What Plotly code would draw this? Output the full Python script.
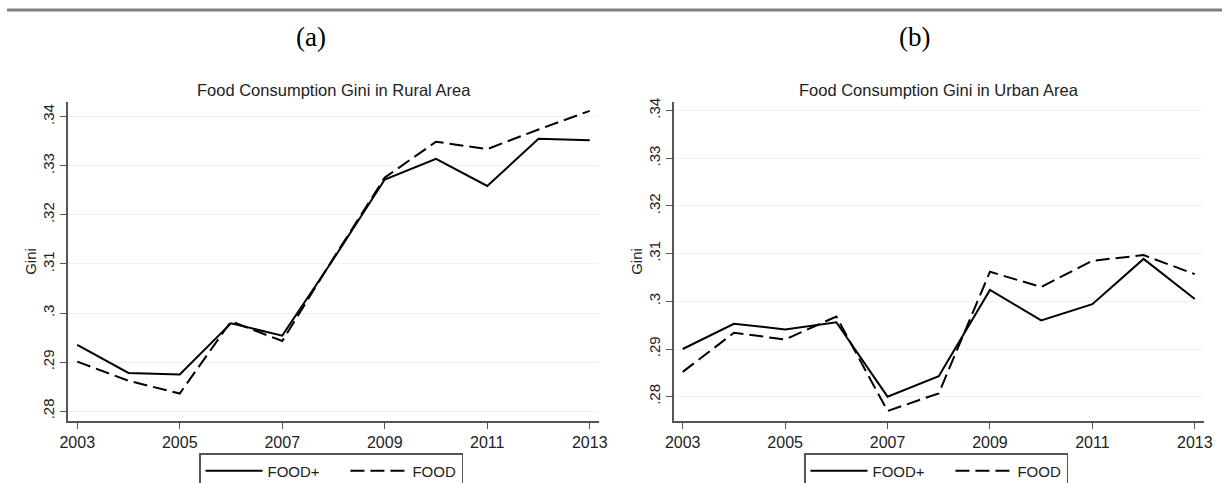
import plotly.graph_objects as go

# Survey years
years = [2003, 2004, 2005, 2006, 2007, 2008, 2009, 2010, 2011, 2012, 2013]

# Food consumption Gini, rural households
rural_food_plus = [0.2935, 0.2878, 0.2875, 0.2979, 0.2954, 0.3110, 0.3272, 0.3314, 0.3259, 0.3355, 0.3352]
rural_food = [0.2901, 0.2862, 0.2836, 0.2983, 0.2943, 0.3112, 0.3276, 0.3349, 0.3334, 0.3374, 0.3412]

# Food consumption Gini, urban households
urban_food_plus = [0.2900, 0.2953, 0.2941, 0.2956, 0.2800, 0.2843, 0.3024, 0.2960, 0.2994, 0.3089, 0.3005]
urban_food = [0.2852, 0.2934, 0.2920, 0.2968, 0.2770, 0.2807, 0.3062, 0.3030, 0.3085, 0.3097, 0.3057]

# Axis ticks
x_ticks = [2003, 2005, 2007, 2009, 2011, 2013]
y_ticks = [0.28, 0.29, 0.30, 0.31, 0.32, 0.33, 0.34]
y_tick_text = [".28", ".29", ".3", ".31", ".32", ".33", ".34"]

panel_titles = ["Food Consumption Gini in Rural Area", "Food Consumption Gini in Urban Area"]
panel_tags = ["(a)", "(b)"]
series_names = ["FOOD+", "FOOD"]

W, H = 1222, 483
SANS = "Liberation Sans, Arial, sans-serif"
SERIF = "Liberation Serif, Times New Roman, serif"
NBSP = "\u00a0"


def px_x(v):
    return v / W


def px_y(v):
    return 1 - v / H


fig = go.Figure()

panels = [
    dict(xa="x", ya="y", legend="legend", food_plus=rural_food_plus, food=rural_food),
    dict(xa="x2", ya="y2", legend="legend2", food_plus=urban_food_plus, food=urban_food),
]

for p in panels:
    # trailing non-breaking spaces widen the gap between the two legend entries
    fig.add_trace(go.Scatter(
        x=years, y=p["food_plus"], name=series_names[0] + NBSP * 5, mode="lines",
        line=dict(color="black", width=2),
        xaxis=p["xa"], yaxis=p["ya"], legend=p["legend"],
    ))
    fig.add_trace(go.Scatter(
        x=years, y=p["food"], name=series_names[1], mode="lines",
        line=dict(color="black", width=2, dash="14px,6px"),
        xaxis=p["xa"], yaxis=p["ya"], legend=p["legend"],
    ))

y_dom = [px_y(421), px_y(102)]
left_dom = [px_x(68), px_x(599)]
right_dom = [px_x(673.5), px_x(1204)]

common_x = dict(
    range=[2002.82, 2013.18], tickvals=x_ticks, ticks="outside", ticklen=6,
    tickwidth=1.2, tickcolor="#555", showline=True, linecolor="#555", linewidth=1.5,
    showgrid=False, zeroline=False, tickfont=dict(family=SANS, size=16, color="#222"),
)
common_y = dict(
    tickvals=y_ticks, ticktext=y_tick_text, ticks="outside", ticklen=6,
    tickwidth=1.2, tickcolor="#555", showline=True, linecolor="#555", linewidth=1.5,
    showgrid=True, gridcolor="#f1f1f1", gridwidth=1, zeroline=False,
    tickangle=-90, tickfont=dict(family=SANS, size=15, color="#222"),
    ticklabelstandoff=0,
    title=dict(text="Gini", font=dict(family=SANS, size=15, color="#222"), standoff=0),
)

legend_common = dict(
    orientation="h", xanchor="left", y=px_y(453), yanchor="top",
    bordercolor="#555", borderwidth=1.5, bgcolor="white",
    font=dict(family=SANS, size=15, color="#222"), itemwidth=57,
)

fig.update_layout(
    width=W, height=H,
    margin=dict(l=0, r=0, t=0, b=0, autoexpand=False),
    paper_bgcolor="white", plot_bgcolor="white",
    xaxis=dict(common_x, domain=left_dom, anchor="y"),
    yaxis=dict(common_y, domain=y_dom, anchor="x", range=[0.278, 0.343]),
    xaxis2=dict(common_x, domain=right_dom, anchor="y2"),
    yaxis2=dict(common_y, domain=y_dom, anchor="x2", range=[0.2749, 0.3418]),
    legend=dict(legend_common, x=px_x(199)),
    legend2=dict(legend_common, x=px_x(804)),
)

# Panel titles and tags
centers = [(68 + 599) / 2, (673.5 + 1204) / 2]
tag_x = [311, 914]
annotations = []
for i in range(2):
    annotations.append(dict(
        text=panel_titles[i], x=px_x(centers[i]), y=px_y(90), xref="paper", yref="paper",
        xanchor="center", yanchor="middle", showarrow=False,
        font=dict(family=SANS, size=16.5, color="#222"),
    ))
    annotations.append(dict(
        text=panel_tags[i], x=px_x(tag_x[i]), y=px_y(37), xref="paper", yref="paper",
        xanchor="center", yanchor="middle", showarrow=False,
        font=dict(family=SERIF, size=27, color="black"),
    ))
fig.update_layout(annotations=annotations)

# Rule across the top of the page
fig.add_shape(type="line", xref="paper", yref="paper",
              x0=px_x(7), x1=1, y0=px_y(10), y1=px_y(10),
              line=dict(color="#808080", width=3))

fig.write_html("out.html")
